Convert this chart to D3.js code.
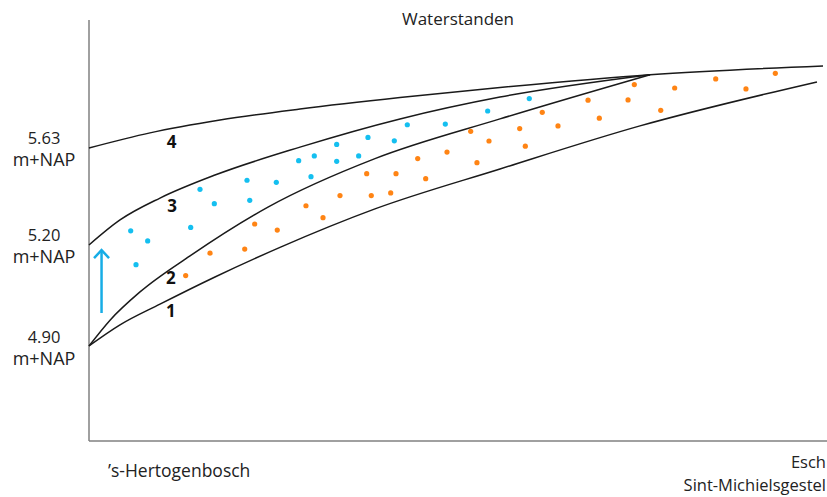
<!DOCTYPE html>
<html>
	<head>
		<script src="https://d3js.org/d3.v7.min.js"></script>
		<style>
			body {
				margin: 0;
				background: #fff;
			}
			text {
				font-family: 'Open Sans', 'Noto Sans', sans-serif;
				fill: #222;
			}
			.curve {
				fill: none;
				stroke: #1a1a1a;
				stroke-width: 1.5px;
			}
			.axis-line {
				stroke: #808080;
				stroke-width: 1.5px;
			}
		</style>
	</head>
	<body>
		<svg id="chart" width="827" height="497"></svg>
		<script>
			// distance along the river, 0 = 's-Hertogenbosch, 100 = Esch
			// level in m+NAP (schematic axis, only three levels are labelled)
			const levelTicks = [4.9, 5.2, 5.63];
			const levelLabels = ['4.90', '5.20', '5.63'];

			const curve1X = [0, 4.2, 9.62, 17.07, 25.88, 38.75, 55.69, 74.66, 98.64];
			const curve1Y = [4.903, 4.965, 5.026, 5.106, 5.193, 5.36, 5.537, 5.728, 5.923];

			const curve2X = [0, 2.85, 6.91, 13.69, 24.25, 38.75, 55.69, 76.02];
			const curve2Y = [4.903, 4.979, 5.062, 5.168, 5.368, 5.583, 5.759, 5.955];

			const curve3X = [0, 4.2, 9.62, 17.07, 28.59, 42.14, 55.69, 76.02];
			const curve3Y = [5.2, 5.311, 5.408, 5.51, 5.634, 5.759, 5.856, 5.955];

			const curve4X = [0, 8.27, 17.75, 28.59, 42.14, 55.69, 76.02, 99.46];
			const curve4Y = [5.63, 5.697, 5.754, 5.803, 5.854, 5.898, 5.955, 5.994];

			const curveNames = ['1', '2', '3', '4'];
			const curveLabelX = [11.11, 11.11, 11.25, 11.18];
			const curveLabelY = [5.006, 5.103, 5.373, 5.657];

			const blueX = [5.65, 7.95, 6.37, 13.78, 15.04, 16.98, 21.41, 21.78, 25.38, 28.41, 30.53, 30.08, 33.56, 33.56, 36.54, 37.8, 41.37, 43.13, 48.28, 54.02, 59.66];
			const blueY = [5.263, 5.218, 5.142, 5.278, 5.447, 5.383, 5.487, 5.398, 5.478, 5.574, 5.595, 5.503, 5.646, 5.571, 5.595, 5.677, 5.662, 5.733, 5.736, 5.794, 5.849];

			const orangeX = [13.1, 16.4, 21.1, 22.45, 25.51, 29.4, 31.71, 34.01, 38.25, 40.88, 37.63, 41.6, 45.62, 44.54, 48.51, 51.72, 52.57, 54.2, 58.36, 59.12, 61.42, 63.55, 67.62, 69.15, 73.04, 73.89, 77.47, 79.36, 84.92, 89.02, 93.0];
			const orangeY = [5.11, 5.176, 5.188, 5.293, 5.266, 5.374, 5.321, 5.419, 5.419, 5.431, 5.516, 5.516, 5.494, 5.583, 5.612, 5.704, 5.565, 5.661, 5.716, 5.638, 5.788, 5.728, 5.842, 5.762, 5.843, 5.911, 5.797, 5.896, 5.936, 5.892, 5.961];

			// arrow: rise of the level at 's-Hertogenbosch
			const arrowX = 1.7;
			const arrowFrom = 5.0;
			const arrowTo = 5.185;

			const title = 'Waterstanden';
			const startName = '\u2019s-Hertogenbosch';
			const endNames = ['Esch', 'Sint-Michielsgestel'];

			const svg = d3.select('svg#chart');
			const width = parseInt(svg.attr('width'));
			const height = parseInt(svg.attr('height'));
			const margin = { top: 20, right: 0, bottom: 56, left: 89 };
			const plotBottom = height - margin.bottom;

			const x = d3.scaleLinear().domain([0, 100]).range([margin.left, width - margin.right]);
			// the drawing is schematic: spacing between labelled levels is not uniform
			const y = d3.scaleLinear().domain(levelTicks).range([347, 245, 148]);

			// axes
			svg.append('line').attr('class', 'axis-line').attr('x1', margin.left).attr('x2', margin.left).attr('y1', margin.top).attr('y2', plotBottom);
			svg.append('line').attr('class', 'axis-line').attr('x1', margin.left).attr('x2', width).attr('y1', plotBottom).attr('y2', plotBottom);

			const yLab = svg.selectAll('g.ylab').data(levelTicks).join('g').attr('class', 'ylab').attr('transform', (d) => `translate(44,${y(d)})`);
			yLab
				.append('text')
				.attr('text-anchor', 'middle')
				.attr('dominant-baseline', 'central')
				.attr('y', -11)
				.style('font-size', '16.5px')
				.text((d, i) => levelLabels[i]);
			yLab
				.append('text')
				.attr('text-anchor', 'middle')
				.attr('dominant-baseline', 'central')
				.attr('y', 11)
				.style('font-size', '18px')
				.text('m+NAP');

			svg.append('text').attr('x', (x(0) + x(100)) / 2).attr('y', 25).attr('text-anchor', 'middle').style('font-size', '17px').text(title);

			svg.append('text').attr('x', x(0) + 19).attr('y', 477).style('font-size', '17.5px').text(startName);
			// two-line label at the downstream end
			svg
				.append('text')
				.attr('text-anchor', 'end')
				.style('font-size', '16.5px')
				.selectAll('tspan')
				.data(endNames)
				.join('tspan')
				.attr('x', width - 1)
				.attr('y', (d, i) => 468 + i * 23)
				.text((d) => d);

			// curves
			const curves = [
				d3.zip(curve1X, curve1Y),
				d3.zip(curve2X, curve2Y),
				d3.zip(curve3X, curve3Y),
				d3.zip(curve4X, curve4Y)
			];
			const line = d3
				.line()
				.x((d) => x(d[0]))
				.y((d) => y(d[1]))
				.curve(d3.curveMonotoneX);
			svg.selectAll('path.curve').data(curves).join('path').attr('class', 'curve').attr('d', line);

			svg
				.selectAll('text.cname')
				.data(curveNames)
				.join('text')
				.attr('class', 'cname')
				.attr('x', (d, i) => x(curveLabelX[i]))
				.attr('y', (d, i) => y(curveLabelY[i]))
				.attr('text-anchor', 'middle')
				.attr('dominant-baseline', 'central')
				.style('font-size', '17px')
				.style('font-weight', 'bold')
				.style('fill', '#111')
				.text((d) => d);

			// dots
			svg
				.selectAll('circle.blue')
				.data(d3.zip(blueX, blueY))
				.join('circle')
				.attr('class', 'blue')
				.attr('cx', (d) => x(d[0]))
				.attr('cy', (d) => y(d[1]))
				.attr('r', 2.6)
				.attr('fill', '#14bff0');
			svg
				.selectAll('circle.orange')
				.data(d3.zip(orangeX, orangeY))
				.join('circle')
				.attr('class', 'orange')
				.attr('cx', (d) => x(d[0]))
				.attr('cy', (d) => y(d[1]))
				.attr('r', 2.6)
				.attr('fill', '#ff8414');

			// arrow
			const ax = x(arrowX);
			const ay0 = y(arrowFrom);
			const ay1 = y(arrowTo);
			const arrowColor = '#17ade6';
			svg.append('line').attr('x1', ax).attr('x2', ax).attr('y1', ay0).attr('y2', ay1 + 1).attr('stroke', arrowColor).attr('stroke-width', 2.5);
			svg
				.append('path')
				.attr('d', `M${ax - 7.5},${ay1 + 8} L${ax},${ay1} L${ax + 7.5},${ay1 + 8}`)
				.attr('fill', 'none')
				.attr('stroke', arrowColor)
				.attr('stroke-width', 2.5);
		</script>
	</body>
</html>
